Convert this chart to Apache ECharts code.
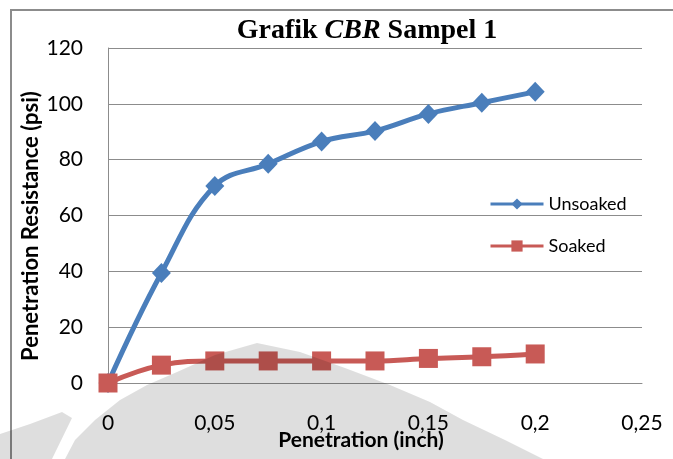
<!DOCTYPE html>
<html>
<head>
<meta charset="utf-8">
<script src="https://cdn.jsdelivr.net/npm/echarts@6/dist/echarts.min.js"></script>
<style>
  html, body { margin: 0; padding: 0; background: #fff; }
  #chart { width: 673px; height: 459px; }
</style>
</head>
<body>
<div id="chart"></div>
<script>
// Penetration (inch) readings
const penetration = [0, 0.025, 0.05, 0.075, 0.1, 0.125, 0.15, 0.175, 0.2];
// Penetration resistance (psi)
const unsoaked = [0, 39.4, 70.6, 78.5, 86.5, 90.3, 96.4, 100.4, 104.3];
const soaked = [0, 6.4, 7.9, 7.9, 7.9, 7.9, 8.8, 9.4, 10.4];
const seriesNames = ['Unsoaked', 'Soaked'];
const xTicks = { min: 0, max: 0.25, step: 0.05 };
const yTicks = { min: 0, max: 120, step: 20 };

const pairs = (xs, ys) => xs.map((x, i) => [x, ys[i]]);
const commaDecimal = v => String(+v.toFixed(3)).replace('.', ',');

const BLUE = '#4A7EBB';
const RED = '#C85A56';
const GRID = '#8c8c8c';
const FONT = 'Lato';

// faint logo stamp lying over the lower part of the figure
const stampShade = 'rgba(0,0,0,0.13)';
const stampDome = [[257,343],[300,352],[345,368],[390,385],[430,402],[463,420],[505,440],[543,459],
                   [65,459],[75,440],[95,420],[120,400],[147,385],[177,372],[215,355]];
const stampLeft = [[0,434],[30,424],[62,412],[72,418],[52,459],[0,459]];

const chart = echarts.init(document.getElementById('chart'));
chart.setOption({
  animation: false,
  backgroundColor: '#fff',
  title: {
    text: '{b|Grafik }{i|CBR}{b| Sampel 1}',
    left: 362,
    top: 12,
    textAlign: 'center',
    textStyle: {
      rich: {
        b: { fontFamily: 'Liberation Serif', fontWeight: 'bold', fontSize: 28, color: '#000' },
        i: { fontFamily: 'Liberation Serif', fontWeight: 'bold', fontStyle: 'italic', fontSize: 28, color: '#000' }
      }
    }
  },
  grid: { left: 108, right: 31, top: 48, bottom: 76, containLabel: false },
  legend: {
    orient: 'vertical',
    left: 484,
    top: 190,
    itemWidth: 53,
    itemHeight: 14,
    itemGap: 24,
    data: seriesNames,
    lineStyle: { width: 3 },
    textStyle: { fontFamily: FONT, fontSize: 18, color: '#000' }
  },
  xAxis: {
    type: 'value',
    min: xTicks.min,
    max: xTicks.max,
    interval: xTicks.step,
    axisLine: { show: true, lineStyle: { color: GRID, width: 1 } },
    axisTick: { show: false },
    splitLine: { show: false },
    axisLabel: {
      margin: 30,
      fontFamily: FONT,
      fontSize: 21,
      color: '#000',
      formatter: commaDecimal
    }
  },
  yAxis: {
    type: 'value',
    min: yTicks.min,
    max: yTicks.max,
    interval: yTicks.step,
    axisLine: { show: true, lineStyle: { color: GRID, width: 1 } },
    axisTick: { show: false },
    splitLine: { show: true, lineStyle: { color: GRID, width: 1 } },
    axisLabel: {
      margin: 25,
      fontFamily: FONT,
      fontSize: 21,
      color: '#000'
    }
  },
  series: [
    {
      name: seriesNames[0],
      type: 'line',
      data: pairs(penetration, unsoaked),
      smooth: 0.4,
      symbol: 'diamond',
      symbolSize: [19, 20],
      lineStyle: { color: BLUE, width: 5 },
      itemStyle: { color: BLUE },
      z: 3
    },
    {
      name: seriesNames[1],
      type: 'line',
      data: pairs(penetration, soaked),
      smooth: 0.4,
      symbol: 'rect',
      symbolSize: 19,
      lineStyle: { color: RED, width: 5 },
      itemStyle: { color: RED },
      z: 4
    }
  ],
  graphic: [
    {
      type: 'rect',
      shape: { x: 11, y: 10, width: 720, height: 520 },
      style: { fill: 'none', stroke: GRID, lineWidth: 2 },
      z: 1
    },
    {
      type: 'text',
      x: 31, y: 226,
      rotation: Math.PI / 2,
      style: {
        text: 'Penetration Resistance (psi)',
        fontFamily: FONT, fontWeight: 'bold', fontSize: 22, fill: '#000',
        textAlign: 'center', textVerticalAlign: 'middle'
      },
      z: 10
    },
    {
      type: 'text',
      x: 361, y: 440,
      style: {
        text: 'Penetration (inch)',
        fontFamily: FONT, fontWeight: 'bold', fontSize: 21, fill: '#000',
        textAlign: 'center', textVerticalAlign: 'middle'
      },
      z: 10
    },
    {
      type: 'polygon',
      shape: { points: stampDome },
      style: { fill: stampShade },
      silent: true,
      z: 100
    },
    {
      type: 'polygon',
      shape: { points: stampLeft },
      style: { fill: stampShade },
      silent: true,
      z: 100
    }
  ]
});
</script>
</body>
</html>
